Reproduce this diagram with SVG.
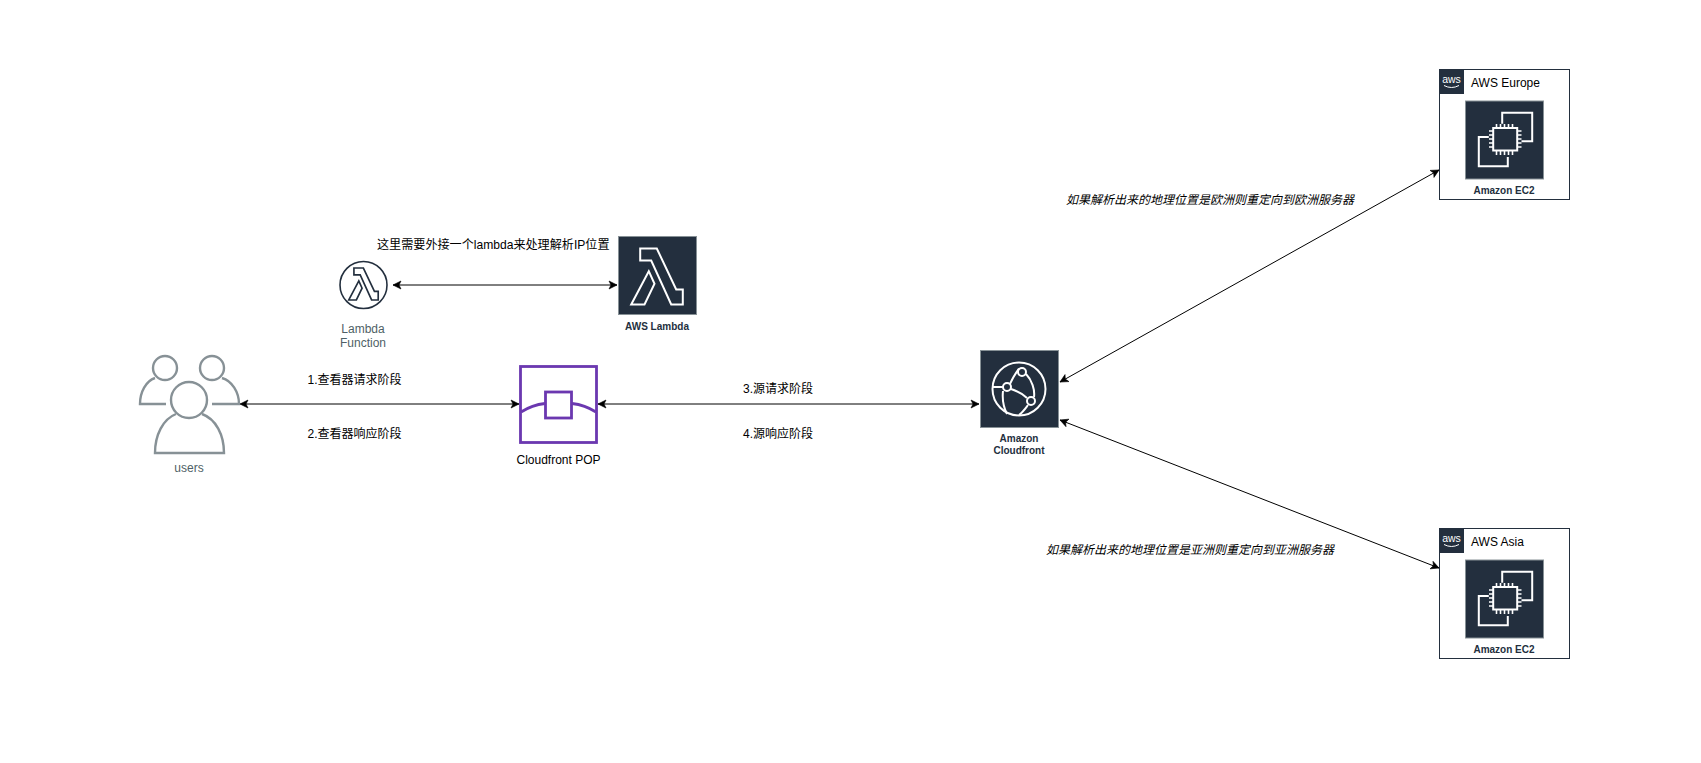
<svg xmlns="http://www.w3.org/2000/svg" xmlns:xlink="http://www.w3.org/1999/xlink" width="1701" height="763" viewBox="0 0 1701 763">
<style>
text{font-family:"Liberation Sans","Noto Sans CJK SC",sans-serif;font-size:12px;fill:#000}
.c{text-anchor:middle}
.b{font-weight:700;font-size:10px;fill:#232f3e}
.gr{fill:#4f5f66}
.i{font-style:italic}
.w{fill:none;stroke:#fff;stroke-width:2}
.box{fill:#232f3e;stroke:#879196;stroke-width:1}
.u{fill:none;stroke:#879196;stroke-width:2.400}
.p{fill:none;stroke:#6b38b0;stroke-width:2.800}
.e{stroke:#000;stroke-width:1;fill:none;marker-start:url(#a);marker-end:url(#a)}
.frame{fill:#fff;stroke:#232f3e;stroke-width:1}
</style>
<defs>
<marker id="a" markerUnits="userSpaceOnUse" markerWidth="11" markerHeight="11" refX="9" refY="5.500" orient="auto-start-reverse"><path d="M9 5.500L1 1.500 3 5.500 1 9.500z" fill="#000" stroke="#000" stroke-width=".6"/></marker>
<path id="lam" d="M640.700 249H657.300L676.700 290H683.300V305H671.700L651.700 261H640.700zM631.700 305L649.300 271.700 655 284.300 645 305z"/>
<g id="aws"><rect width="25" height="25" fill="#232f3e"/><text x="12.500" y="14" class="c" style="fill:#fff;font-size:10.500px">aws</text><path d="M5 16.500Q12.500 20.500 20 16.500" fill="none" stroke="#fff" stroke-width="1"/></g>
<g id="ec2"><rect class="box" width="78" height="78"/>
<path class="w" d="M36.700 22.700V11.700H66.700V40.300H56M23.300 36H13.300V65.300H42.300V56"/>
<rect class="w" x="27.700" y="27" width="24" height="22.500"/>
<path class="w" style="stroke-width:1.600" d="M31 27V23M35 27V23M39 27V23M43 27V23M47 27V23M31 54V49.500M35 54V49.500M39 54V49.500M43 54V49.500M47 54V49.500M23.500 30H27.700M23.500 34H27.700M23.500 38H27.700M23.500 42H27.700M23.500 46H27.700M51.700 30H56M51.700 34H56M51.700 38H56M51.700 42H56M51.700 46H56"/></g>
</defs>
<rect width="1701" height="763" fill="#fff"/>
<g id="connectors">
<line class="e" x1="240" y1="404" x2="519" y2="404"/>
<line class="e" x1="598" y1="404" x2="979" y2="404"/>
<line class="e" x1="393" y1="285" x2="617" y2="285"/>
<line class="e" x1="1060" y1="382" x2="1439" y2="170"/>
<line class="e" x1="1060" y1="420" x2="1439" y2="568"/>
</g>
<g id="users">
<circle class="u" cx="165" cy="368" r="12"/><circle class="u" cx="212" cy="368" r="12"/>
<path class="u" d="M155 378C146 381 140 392 140 404H166M222 378C232 381 239 392 239 404H212"/>
<circle class="u" cx="189" cy="400" r="18"/>
<path class="u" d="M176 414C163 419 155 435 155 453H224C224 435 216 419 202 414"/>
<text class="c gr" x="189" y="472">users</text>
</g>
<g id="lambda-function">
<circle cx="363.500" cy="285" r="23.500" fill="#fff" stroke="#232f3e" stroke-width="1.600"/>
<use xlink:href="#lam" href="#lam" fill="none" stroke="#232f3e" stroke-width="2.900" transform="translate(363.500 284) scale(.57) translate(-657.500 -277)"/>
<text class="c gr" x="363" y="333">Lambda</text><text class="c gr" x="363" y="347">Function</text>
</g>
<g id="aws-lambda">
<rect class="box" x="618.500" y="236.500" width="78" height="78"/>
<use xlink:href="#lam" href="#lam" class="w" transform="translate(-.5 -.5)"/>
<text class="c b" x="657" y="330">AWS Lambda</text>
</g>
<g id="lambda-note"><text x="377" y="249" style="font-size:12.100px">这里需要外接一个lambda来处理解析IP位置</text></g>
<g id="pop">
<rect class="p" x="520.500" y="366.500" width="76" height="76"/>
<rect class="p" x="545.500" y="392" width="26" height="26"/>
<path class="p" d="M521 412Q532 405 545 403.500M572 403.500Q585 405 596 412"/>
<text class="c" x="558.500" y="464">Cloudfront POP</text>
</g>
<g id="label-1"><text class="c" x="354.500" y="384">1.查看器请求阶段</text></g>
<g id="label-2"><text class="c" x="354.500" y="438">2.查看器响应阶段</text></g>
<g id="label-3"><text class="c" x="778" y="393">3.源请求阶段</text></g>
<g id="label-4"><text class="c" x="778" y="438">4.源响应阶段</text></g>
<g id="cloudfront">
<rect class="box" x="980.500" y="350.500" width="78" height="77"/>
<g class="w">
<circle cx="1019" cy="389" r="26.500"/>
<circle cx="1022" cy="372" r="4"/><circle cx="1007" cy="387" r="4"/><circle cx="1031" cy="401" r="4"/>
<path d="M1019 368.500C1015 374 1012 379 1010 384M1011 389C1017 391 1023 394 1027 398M1003 387H993M1026 374C1032 380 1035 390 1034 397M1003 391C1002 400 1004 408 1007 414M1028 405C1025 409 1023 412 1019 415"/>
</g>
<text class="c b" x="1019" y="441.500">Amazon</text><text class="c b" x="1019" y="453.500">Cloudfront</text>
</g>
<g id="aws-europe">
<rect class="frame" x="1439.500" y="69.500" width="130" height="130"/>
<use xlink:href="#aws" href="#aws" x="1439" y="69"/>
<use xlink:href="#ec2" href="#ec2" x="1465.500" y="101"/>
<text x="1471" y="87">AWS Europe</text>
<text class="c b" x="1504" y="194">Amazon EC2</text>
</g>
<g id="aws-asia">
<rect class="frame" x="1439.500" y="528.500" width="130" height="130"/>
<use xlink:href="#aws" href="#aws" x="1439" y="528"/>
<use xlink:href="#ec2" href="#ec2" x="1465.500" y="560"/>
<text x="1471" y="546">AWS Asia</text>
<text class="c b" x="1504" y="653">Amazon EC2</text>
</g>
<g id="note-europe"><text class="i" x="1066" y="204">如果解析出来的地理位置是欧洲则重定向到欧洲服务器</text></g>
<g id="note-asia"><text class="i" x="1046" y="554">如果解析出来的地理位置是亚洲则重定向到亚洲服务器</text></g>
</svg>
